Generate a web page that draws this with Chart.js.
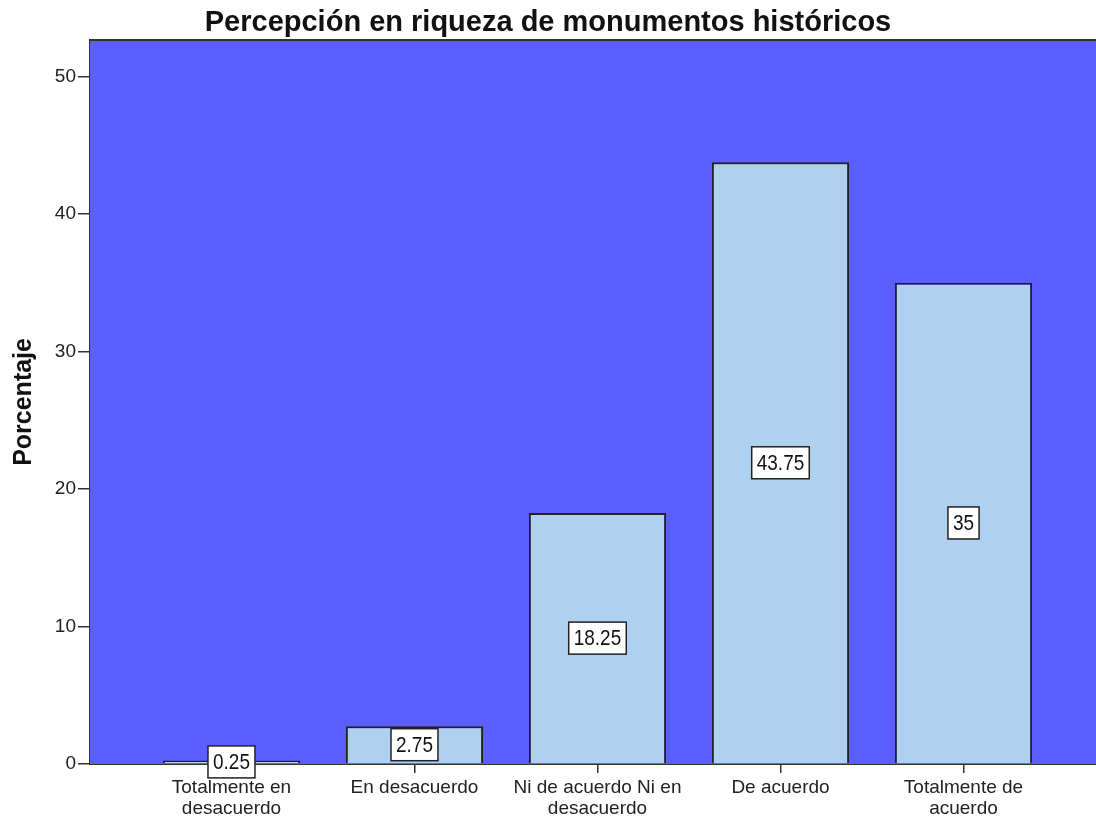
<!DOCTYPE html>
<html>
<head>
<meta charset="utf-8">
<script src="https://cdn.jsdelivr.net/npm/chart.js@4"></script>
<style>
  html, body { margin: 0; padding: 0; background: #fff; overflow: hidden; }
  canvas { display: block; }
</style>
</head>
<body>
<canvas id="chart" width="1096" height="819"></canvas>
<script>
// values
const categories = [
  ['Totalmente en', 'desacuerdo'],
  'En desacuerdo',
  ['Ni de acuerdo Ni en', 'desacuerdo'],
  'De acuerdo',
  ['Totalmente de', 'acuerdo']
];
const percentages = [0.25, 2.75, 18.25, 43.75, 35];
const yTicks = [0, 10, 20, 30, 40, 50];

const PLOT_BG = '#5c5fff';
const BAR_FILL = '#afd0ee';
const INK = '#222';
const FONT = "'Liberation Sans', Arial, sans-serif";

Chart.defaults.font.family = FONT;
Chart.defaults.color = INK;

/* blue plot background + the top frame line */
const plotBackground = {
  id: 'plotBackground',
  beforeDatasetsDraw(chart) {
    const { ctx, chartArea: a } = chart;
    ctx.save();
    ctx.fillStyle = PLOT_BG;
    ctx.fillRect(a.left, a.top, a.right - a.left, a.bottom - a.top);
    ctx.strokeStyle = '#333';
    ctx.lineWidth = 2;
    ctx.beginPath();
    ctx.moveTo(a.left, a.top);
    ctx.lineTo(a.right, a.top);
    ctx.stroke();
    ctx.restore();
  }
};

/* boxed value label in the middle of every bar */
const boxLabels = {
  id: 'boxLabels',
  afterDatasetsDraw(chart) {
    const { ctx } = chart;
    const meta = chart.getDatasetMeta(0);
    ctx.save();
    ctx.font = '19px ' + FONT;
    ctx.textAlign = 'center';
    ctx.textBaseline = 'middle';
    meta.data.forEach((bar, i) => {
      const txt = String(percentages[i]);
      const cx = bar.x;
      const cy = (bar.y + bar.base) / 2;
      const w = ctx.measureText(txt).width + 10;
      const h = 32;
      ctx.fillStyle = '#fff';
      ctx.fillRect(cx - w / 2, cy - h / 2, w, h);
      ctx.strokeStyle = INK;
      ctx.lineWidth = 1.5;
      ctx.strokeRect(cx - w / 2, cy - h / 2, w, h);
      ctx.save();
      ctx.translate(cx, cy + 1);
      ctx.scale(1, 1.2);
      ctx.fillStyle = '#111';
      ctx.fillText(txt, 0, 0);
      ctx.restore();
    });
    ctx.restore();
  }
};

new Chart(document.getElementById('chart'), {
  type: 'bar',
  data: {
    datasets: [{
      data: percentages.map((v, i) => ({ x: i, y: v })),
      backgroundColor: BAR_FILL,
      borderColor: INK,
      borderWidth: 2,
      categoryPercentage: 0.75,
      barPercentage: 1
    }]
  },
  options: {
    responsive: false,
    animation: false,
    devicePixelRatio: 1,
    layout: { padding: 0 },
    plugins: {
      legend: { display: false },
      tooltip: { enabled: false },
      title: {
        display: true,
        text: 'Percepción en riqueza de monumentos históricos',
        color: '#111',
        font: { size: 29, weight: 'bold', lineHeight: 1.1 },
        padding: { top: 7, bottom: 1 }
      }
    },
    scales: {
      x: {
        type: 'linear',
        min: -0.773,
        max: 4.724,
        offset: false,
        afterBuildTicks: (s) => { s.ticks = categories.map((_, i) => ({ value: i })); },
        afterFit: (s) => { s.height = 55; },
        grid: { offset: false, drawOnChartArea: false, drawTicks: true, tickLength: 9, color: '#333', lineWidth: 1.5 },
        border: { color: '#333', width: 2 },
        ticks: {
          autoSkip: false, maxRotation: 0, padding: 4,
          font: { size: 19, lineHeight: 1.1 },
          color: INK,
          callback: (v) => categories[v] ?? ''
        }
      },
      y: {
        min: 0,
        max: 52.65,
        afterBuildTicks: (s) => { s.ticks = yTicks.map((v) => ({ value: v })); },
        afterFit: (s) => { s.width = 90; },
        grid: { drawOnChartArea: false, drawTicks: true, tickLength: 12, color: '#333', lineWidth: 1.5 },
        border: { color: '#333', width: 2 },
        ticks: { font: { size: 19 }, color: INK, padding: 2 },
        title: {
          display: true,
          text: 'Porcentaje',
          color: '#111',
          font: { size: 25, weight: 'bold' },
          padding: { top: 9, bottom: 0 }
        }
      }
    }
  },
  plugins: [plotBackground, boxLabels]
});
</script>
</body>
</html>
